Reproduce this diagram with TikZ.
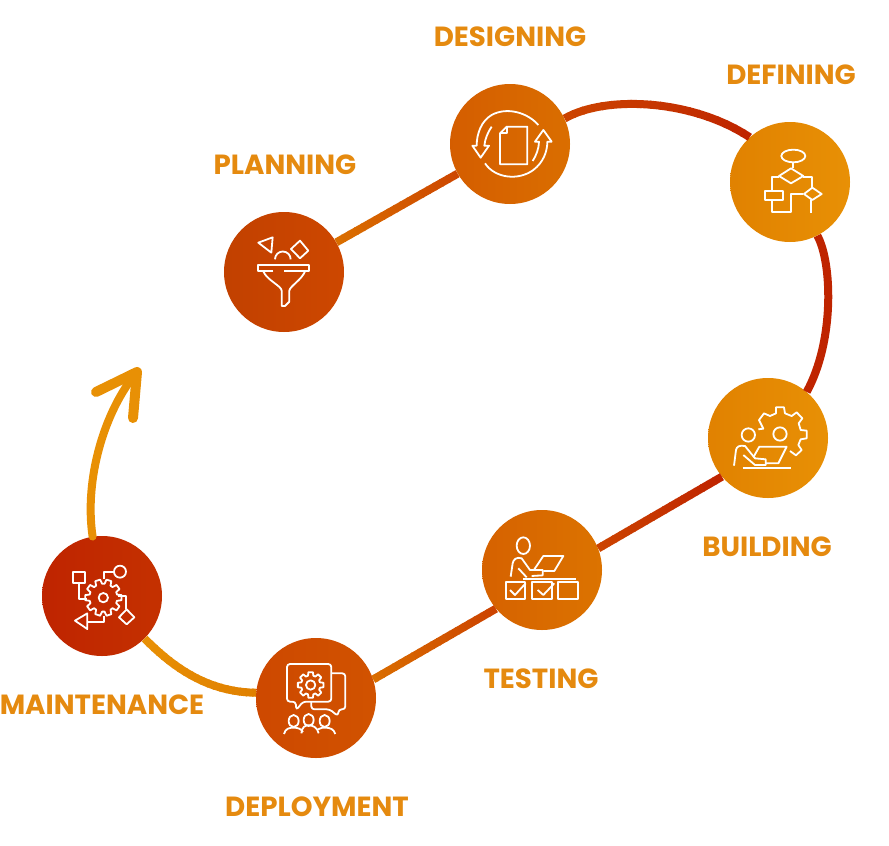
\documentclass[tikz,border=0pt]{standalone}
\usepackage{fontspec}
\setmainfont{Poppins}
\usetikzlibrary{calc}
\definecolor{lab}{HTML}{E58A0F}
\definecolor{cA}{HTML}{BF2400}
\definecolor{cB}{HTML}{CC4400}
\definecolor{cC}{HTML}{DA6E00}
\definecolor{cD}{HTML}{E08000}
\definecolor{cE}{HTML}{E89005}
\tikzset{
  stage/.style={circle,minimum size=120pt,inner sep=0pt,shading=axis,shading angle=75},
  stagelabel/.style={text=lab,inner sep=0pt,font=\fontsize{27.7}{28}\selectfont\bfseries},
  icon/.style={draw=white,line width=1.8pt,line join=round,fill=none},
}
% colA colB pathlength path
\newcommand\gradline[4]{%
  \foreach \i in {0,...,19}{%
    \pgfmathsetmacro\st{#3*\i/20}%
    \pgfmathsetmacro\sl{#3/20+1.5}%
    \pgfmathtruncatemacro\pc{100*\i/19}%
    \draw[line width=8pt,color=#2!\pc!#1,dash pattern=on 0pt off \st pt on \sl pt off 3000pt] #4;
  }%
}
\newcommand\gearpoly[5]{% cx cy router rinner teeth
  \draw[icon] ({#1+#3*cos(-7)},{#2+#3*sin(-7)})
    foreach \g in {1,...,#5}{
      -- ({#1+#3*cos(360*(\g-1)/#5+360/#5*0.22)},{#2+#3*sin(360*(\g-1)/#5+360/#5*0.22)})
      -- ({#1+#4*cos(360*(\g-1)/#5+360/#5*0.36)},{#2+#4*sin(360*(\g-1)/#5+360/#5*0.36)})
      -- ({#1+#4*cos(360*(\g-1)/#5+360/#5*0.64)},{#2+#4*sin(360*(\g-1)/#5+360/#5*0.64)})
      -- ({#1+#3*cos(360*(\g-1)/#5+360/#5*0.78)},{#2+#3*sin(360*(\g-1)/#5+360/#5*0.78)})
    } -- cycle;
}
\begin{document}
\begin{tikzpicture}[x=1pt,y=-1pt]
\useasboundingbox (0,0) rectangle (889,846);
\node[stage,left color=cB!95!black,right color=cB!92!cC] (planning) at (284,272) {};
\node[stage,left color=cB!40!cC,right color=cC] (designing) at (510,144) {};
\node[stage,left color=cD!90!cE,right color=cE] (defining) at (790,182) {};
\node[stage,left color=cD!90!cE,right color=cE] (building) at (768,438) {};
\node[stage,left color=cB!30!cC,right color=cC!70!cD] (testing) at (542,570) {};
\node[stage,left color=cB!90!cC,right color=cB!65!cC] (deployment) at (316,698) {};
\node[stage,left color=cA,right color=cA!60!cB] (maintenance) at (102,596) {};
\coordinate (tip) at (137,372);
\coordinate (armL) at (96,392);
\coordinate (armR) at (133,418);

\gradline{cC}{cB}{150}{(planning) -- (designing)}
\gradline{cB}{cA}{195}{(designing.25) .. controls (605,95) and (692,99) .. (defining.132)}
\draw[line width=8pt,color=cA] (defining.-63) .. controls (832,262) and (835,340) .. (building.50);
\gradline{cA}{cB}{145}{(building.220) -- (testing.21)}
\gradline{cB}{cC}{145}{(testing.220) -- (deployment.18)}
\gradline{cE}{cD}{130}{(maintenance.-45) .. controls (172,666) and (206,692) .. (deployment.175)}
\draw[line width=8pt,color=cE,line cap=round] (maintenance.99) .. controls (84,478) and (105,410) .. (tip);
\draw[line width=10pt,color=cE,line cap=round,line join=round] (armL) -- (tip) -- (armR);

\node[stagelabel] (l1) at (285,165) {PLANNING};
\node[stagelabel] (l2) at (510,37) {DESIGNING};
\node[stagelabel] (l3) at (791,75) {DEFINING};
\node[stagelabel] (l4) at (767,547) {BUILDING};
\node[stagelabel] (l5) at (541,679) {TESTING};
\node[stagelabel] (l6) at (317,807) {DEPLOYMENT};
\node[stagelabel] (l7) at (102,705) {MAINTENANCE};

% Planning icon
\begin{scope}[shift={(210pt,-200pt)},x=0.3333pt,y=-0.3333pt]
\draw[icon] (145,128)--(188,112)--(184,158)--cycle;
\draw[icon] (243,147)--(270,122)--(295,152)--(270,175)--cycle;
\draw[icon] (195,178) arc[start angle=180,end angle=360,radius=23.5];
\draw[icon] (190,212)--(143,212)--(143,194)--(298,194)--(298,212)--(222,212);
\draw[icon] (160,214) .. controls (170,240) and (215,258) .. (215,272) -- (215,318) -- (225,318) -- (238,305) -- (238,272) .. controls (240,258) and (275,240) .. (285,214);
\end{scope}
% Designing icon
\begin{scope}[shift={(440pt,-75pt)},x=0.3333pt,y=-0.3333pt]
\draw[icon] (295,150) .. controls (262,112) and (200,95) .. (155,120) .. controls (125,137) and (110,175) .. (110,212) -- (97,212) -- (122,248) -- (147,212) -- (133,212) .. controls (135,190) and (145,170) .. (155,155);
\draw[icon] (135,265) .. controls (165,310) and (235,318) .. (280,285) .. controls (310,262) and (322,230) .. (322,200) -- (335,200) -- (310,165) -- (285,200) -- (297,200) .. controls (297,220) and (288,243) .. (278,258);
\draw[icon] (200,155) -- (262,155) -- (262,268) -- (180,268) -- (180,175) -- cycle;
\draw[icon] (200,155) -- (200,175) -- (180,175);
\end{scope}
% Defining icon
\begin{scope}[shift={(720pt,-115pt)},x=0.3333pt,y=-0.3333pt]
\draw[icon] (220,123) ellipse[x radius=36,y radius=19];
\draw[icon] (220,142)--(220,158);
\draw[icon] (177,183)--(213,160)--(250,183)--(213,205)--cycle;
\draw[icon] (177,187)--(155,187)--(155,228);
\draw[icon] (136,228) rectangle (190,256);
\draw[icon] (155,256)--(155,290)--(213,290)--(213,237)--(250,237);
\draw[icon] (250,187)--(275,187)--(275,218);
\draw[icon] (252,237)--(277,218)--(305,237)--(277,255)--cycle;
\draw[icon] (272,255)--(272,295);
\end{scope}
% Building icon
\begin{scope}[shift={(700pt,-370pt)},x=0.3333pt,y=-0.3333pt]
\draw[icon] (240,192) circle[radius=20];
\draw[icon] (175,178)--(190,176)--(177,150)--(192,130)--(210,138)--(228,130)--(228,112)--(252,112)--(255,130)--(275,138)--(290,127)--(307,145)--(296,160)--(302,180)--(320,182)--(320,205)--(302,208)--(295,225)--(305,240)--(288,256)--(270,243);
\draw[icon] (145,195) circle[radius=20];
\draw[icon] (102,287)--(108,240) .. controls (110,230) and (118,225) .. (135,228) -- (165,265) -- (197,268) -- (197,285) -- (165,285) -- (130,255);
\draw[icon] (160,262)--(178,230)--(260,230)--(235,280)--(197,280);
\draw[icon] (128,295)--(272,295);
\end{scope}
% Testing icon
\begin{scope}[shift={(475pt,-500pt)},x=0.3333pt,y=-0.3333pt]
\draw[icon] (145,137) ellipse[x radius=20,y radius=25];
\draw[icon] (107,230)--(113,190) .. controls (115,178) and (125,170) .. (140,175) -- (165,210) -- (203,210) -- (203,226) -- (170,228);
\draw[icon] (130,205)--(155,232);
\draw[icon] (178,208)--(205,168)--(265,168)--(238,213)--(205,213);
\draw[icon] (145,237)--(303,237);
\draw[icon] (92,245) rectangle (150,297);
\draw[icon] (170,245) rectangle (230,297);
\draw[icon] (250,245) rectangle (308,297);
\draw[icon] (105,270)--(120,285)--(152,250);
\draw[icon] (188,270)--(205,285)--(238,250);
\end{scope}
% Deployment icon
\begin{scope}[shift={(248pt,-630pt)},x=0.3333pt,y=-0.3333pt]
\draw[icon,rounded corners=3pt] (165,215)--(145,240)--(143,215)--(117,215)--(117,102)--(250,102)--(250,215)--cycle;
\draw[icon] (188,165) circle[radius=14];
\gearpoly{188}{165}{39}{29}{8}
\draw[icon,rounded corners=3pt] (250,130)--(292,130)--(292,238)--(272,238)--(270,258)--(245,238)--(190,238)--(190,215);
\draw[icon] (137,273) ellipse[x radius=15,y radius=18];
\draw[icon] (182,270) ellipse[x radius=15,y radius=18];
\draw[icon] (230,273) ellipse[x radius=15,y radius=18];
\draw[icon] (108,312) .. controls (112,295) and (125,293) .. (137,293) .. controls (150,293) and (160,297) .. (165,306);
\draw[icon] (160,310) .. controls (162,290) and (172,286) .. (182,286) .. controls (195,286) and (208,292) .. (212,310);
\draw[icon] (210,298) .. controls (218,293) and (225,293) .. (232,293) .. controls (245,293) and (258,297) .. (262,312);
\end{scope}
% Maintenance icon
\begin{scope}[shift={(35pt,-530pt)},x=0.3333pt,y=-0.3333pt]
\draw[icon] (115,125) rectangle (150,160);
\draw[icon] (133,160)--(133,207)--(155,207);
\draw[icon] (205,203) circle[radius=14];
\gearpoly{205}{203}{55}{42}{10}
\draw[icon] (255,125) circle[radius=18];
\draw[icon] (237,125)--(207,125)--(207,148);
\draw[icon] (250,198)--(272,198)--(272,238);
\draw[icon] (275,238)--(298,262)--(275,283)--(252,262)--cycle;
\draw[icon] (120,272)--(157,250)--(157,297)--cycle;
\draw[icon] (157,275)--(207,275)--(207,257);
\end{scope}
\end{tikzpicture}
\end{document}
